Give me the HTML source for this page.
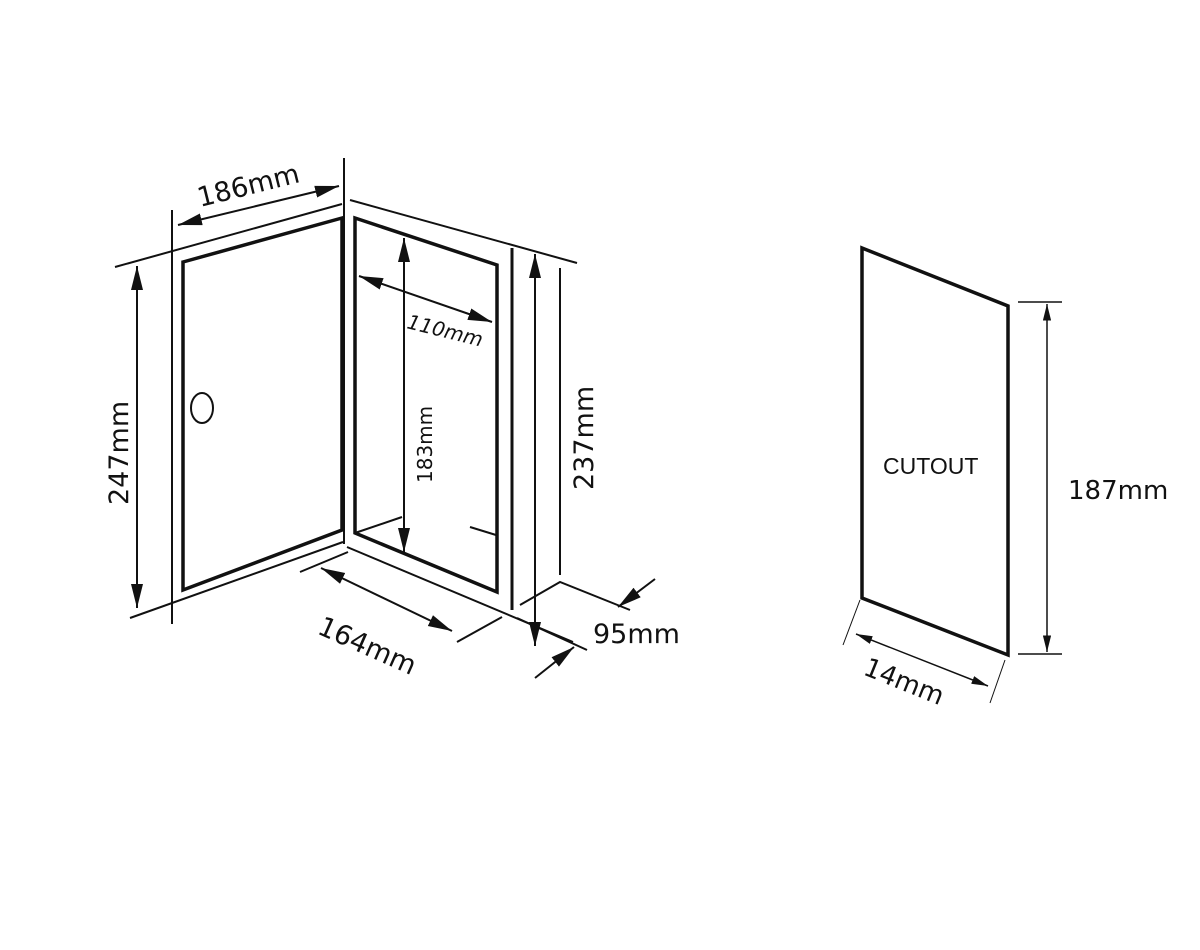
<!DOCTYPE html>
<html><head><meta charset="utf-8"><style>body{margin:0;background:#fff}svg{display:block}</style></head><body>
<svg width="1200" height="950" viewBox="0 0 1200 950" xmlns="http://www.w3.org/2000/svg" font-family="'DejaVu Sans','Liberation Sans',sans-serif">
<defs>
<marker id="a" viewBox="0 0 20 10" refX="20" refY="5" markerWidth="12" markerHeight="6.5" orient="auto-start-reverse" markerUnits="strokeWidth"><path d="M0,0L20,5L0,10z" fill="#111"/></marker>
<marker id="s" viewBox="0 0 20 10" refX="20" refY="5" markerWidth="11" markerHeight="5.5" orient="auto-start-reverse" markerUnits="strokeWidth"><path d="M0,0L20,5L0,10z" fill="#111"/></marker>
</defs>
<g stroke="#111" fill="none" stroke-width="2">
<line x1="172" y1="210" x2="172" y2="624"/>
<line x1="115" y1="267" x2="342" y2="204"/>
<line x1="130" y1="618" x2="343" y2="542"/>
<line x1="344" y1="158" x2="344" y2="544"/>
<polygon points="183,262 342,218 342,530 183,590" stroke-width="3.5"/>
<ellipse cx="202" cy="408" rx="11" ry="15"/>
<line x1="137" y1="266" x2="137" y2="608" marker-start="url(#a)" marker-end="url(#a)"/>
<line x1="178" y1="225" x2="339" y2="186" marker-start="url(#a)" marker-end="url(#a)"/>
<polygon points="355,218 497,265 497,592 355,533" stroke-width="3.5"/>
<line x1="350" y1="200" x2="577" y2="263"/>
<line x1="347" y1="547" x2="573" y2="642"/>
<line x1="512" y1="248" x2="512" y2="610" stroke-width="3"/>
<line x1="560" y1="268" x2="560" y2="575"/>
<line x1="535" y1="254" x2="535" y2="646" marker-start="url(#a)" marker-end="url(#a)"/>
<line x1="404" y1="238" x2="404" y2="552" marker-start="url(#a)" marker-end="url(#a)"/>
<line x1="359" y1="276" x2="492" y2="322" marker-start="url(#a)" marker-end="url(#a)"/>
<line x1="355" y1="533" x2="402" y2="517"/>
<line x1="470" y1="527" x2="496" y2="535"/>
<line x1="300" y1="572" x2="348" y2="552"/>
<line x1="457" y1="642" x2="502" y2="617"/>
<line x1="321" y1="568" x2="452" y2="631" marker-start="url(#a)" marker-end="url(#a)"/>
<polyline points="520,605 560,582 630,610"/>
<line x1="517" y1="618" x2="587" y2="650"/>
<line x1="655" y1="579" x2="618" y2="607" marker-end="url(#a)"/>
<line x1="535" y1="678" x2="574" y2="647" marker-end="url(#a)"/>
<polygon points="862,248 1008,306 1008,655 862,598" stroke-width="3.5"/>
<line x1="1018" y1="302" x2="1062" y2="302" stroke-width="1.5"/>
<line x1="1018" y1="654" x2="1062" y2="654" stroke-width="1.5"/>
<line x1="1047" y1="304" x2="1047" y2="652" stroke-width="1.5" marker-start="url(#s)" marker-end="url(#s)"/>
<line x1="860" y1="600" x2="843" y2="645" stroke-width="1"/>
<line x1="1005" y1="660" x2="990" y2="703" stroke-width="1"/>
<line x1="856" y1="634" x2="988" y2="686" stroke-width="1.5" marker-start="url(#s)" marker-end="url(#s)"/>
</g>
<g fill="#111" font-size="27">
<text transform="translate(200,207) rotate(-14)">186mm</text>
<text transform="translate(128,505) rotate(-90)">247mm</text>
<text transform="translate(406,328) rotate(14)" font-style="italic" font-size="20">110mm</text>
<text transform="translate(432,483) rotate(-90)" font-size="20">183mm</text>
<text transform="translate(593,490) rotate(-90)">237mm</text>
<text transform="translate(316,633) rotate(24)">164mm</text>
<text x="593" y="643">95mm</text>
<text x="1068" y="499" font-size="26">187mm</text>
<text transform="translate(862,674) rotate(22)" font-size="26">14mm</text>
<text x="883" y="474" font-size="23" font-family="'Liberation Sans',sans-serif">CUTOUT</text>
</g>
</svg>
</body></html>
